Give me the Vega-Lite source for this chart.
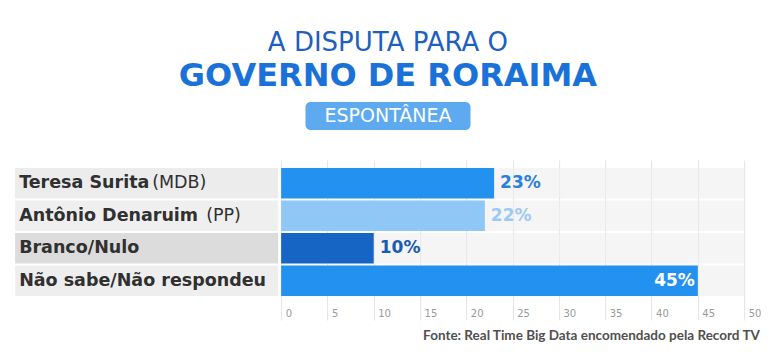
{
  "$schema": "https://vega.github.io/schema/vega-lite/v6.json",
  "padding": {"left": 15, "top": 30, "right": 5, "bottom": 5},
  "background": "white",
  "config": {"font": "DejaVu Sans", "view": {"stroke": null}, "concat": {"spacing": 2}},
  "title": {
    "text": "A DISPUTA PARA O",
    "subtitle": "GOVERNO DE RORAIMA",
    "anchor": "middle",
    "font": "DejaVu Sans",
    "fontSize": 26,
    "fontWeight": "normal",
    "color": "#1f5fbf",
    "subtitleFont": "DejaVu Sans",
    "subtitleFontSize": 32,
    "subtitleFontWeight": "bold",
    "subtitleColor": "#1a72d9",
    "subtitlePadding": 5,
    "offset": 10
  },
  "datasets": {
    "rows": [
      {"name": "Teresa Surita", "party": "(MDB)", "value": 23, "label": "23%"},
      {"name": "Antônio Denaruim", "party": "(PP)", "value": 22, "label": "22%"},
      {"name": "Branco/Nulo", "party": "", "value": 10, "label": "10%"},
      {"name": "Não sabe/Não respondeu", "party": "", "value": 45, "label": "45%"}
    ]
  },
  "center": true,
  "spacing": 30,
  "vconcat": [
    {
      "width": 165,
      "height": 28,
      "data": {"values": [{"label": "ESPONTÂNEA"}]},
      "layer": [
        {"mark": {"type": "rect", "color": "#5eaaf0", "cornerRadius": 5}, "encoding": {}},
        {"mark": {"type": "text", "color": "white", "fontSize": 19}, "encoding": {"text": {"field": "label"}}}
      ]
    },
    {
      "data": {"name": "rows"},
      "hconcat": [
        {
          "width": 263,
          "height": 144,
          "encoding": {
            "y": {"field": "name", "type": "nominal", "sort": null, "axis": null,
                  "scale": {"paddingInner": 0.06, "paddingOuter": 0.25}}
          },
          "layer": [
            {
              "mark": {"type": "bar"},
              "encoding": {
                "x": {"datum": 0, "type": "quantitative", "scale": {"domain": [0, 1]}, "axis": null},
                "x2": {"datum": 1},
                "color": {"field": "name", "type": "nominal", "legend": null,
                          "scale": {"domain": ["Teresa Surita", "Antônio Denaruim", "Branco/Nulo", "Não sabe/Não respondeu"],
                                    "range": ["#ececec", "#efefef", "#dcdcdc", "#eeeeee"]}}
              }
            },
            {
              "mark": {"type": "text", "align": "left", "dx": 4, "fontSize": 17.5, "fontWeight": "bold", "color": "#303030"},
              "encoding": {
                "x": {"datum": 0, "type": "quantitative"},
                "text": {"field": "name"}
              }
            },
            {
              "transform": [{"filter": "datum.name === 'Teresa Surita'"}],
              "mark": {"type": "text", "align": "left", "dx": 137, "fontSize": 17.5, "color": "#303030"},
              "encoding": {
                "x": {"datum": 0, "type": "quantitative"},
                "text": {"field": "party"}
              }
            },
            {
              "transform": [{"filter": "datum.name === 'Antônio Denaruim'"}],
              "mark": {"type": "text", "align": "left", "dx": 191, "fontSize": 17.5, "color": "#303030"},
              "encoding": {
                "x": {"datum": 0, "type": "quantitative"},
                "text": {"field": "party"}
              }
            }
          ]
        },
        {
          "width": 463,
          "height": 144,
          "title": {
            "text": "Fonte: Real Time Big Data encomendado pela Record TV",
            "orient": "bottom", "anchor": "end", "font": "Lato", "fontSize": 13.5, "fontWeight": "bold",
            "color": "#505050", "offset": 8, "dx": -1
          },
          "encoding": {
            "y": {"field": "name", "type": "nominal", "sort": null, "axis": null,
                  "scale": {"paddingInner": 0.06, "paddingOuter": 0.25}}
          },
          "resolve": {"scale": {"color": "independent"}},
          "layer": [
            {
              "mark": {"type": "bar", "color": "#eeeeee", "opacity": 0.6},
              "encoding": {
                "x": {"datum": 0, "type": "quantitative",
                      "scale": {"domain": [0, 50], "nice": false},
                      "axis": {"values": [0, 5, 10, 15, 20, 25, 30, 35, 40, 45, 50], "grid": true, "gridColor": "#e3e3e3",
                               "domain": false, "ticks": true, "tickSize": 16, "tickColor": "#e3e3e3",
                               "labelAlign": "left", "labelOffset": 4, "labelPadding": -12, "labelFontSize": 10,
                               "labelColor": "#9a9a9a", "title": null}},
                "x2": {"datum": 50}
              }
            },
            {
              "mark": {"type": "bar"},
              "encoding": {
                "x": {"field": "value", "type": "quantitative"},
                "color": {"field": "name", "type": "nominal", "legend": null,
                          "scale": {"domain": ["Teresa Surita", "Antônio Denaruim", "Branco/Nulo", "Não sabe/Não respondeu"],
                                    "range": ["#2391ef", "#8fc7f7", "#1664c4", "#2391ef"]}}
              }
            },
            {
              "transform": [{"filter": "datum.value < 40"}],
              "mark": {"type": "text", "align": "left", "dx": 6, "fontSize": 17, "fontWeight": "bold"},
              "encoding": {
                "x": {"field": "value", "type": "quantitative"},
                "text": {"field": "label"},
                "color": {"field": "name", "type": "nominal", "legend": null,
                          "scale": {"domain": ["Teresa Surita", "Antônio Denaruim", "Branco/Nulo"],
                                    "range": ["#2a80dc", "#9ccaf3", "#1a5cb0"]}}
              }
            },
            {
              "transform": [{"filter": "datum.value >= 40"}],
              "mark": {"type": "text", "align": "right", "dx": -3, "fontSize": 17, "fontWeight": "bold", "color": "white"},
              "encoding": {
                "x": {"field": "value", "type": "quantitative"},
                "text": {"field": "label"}
              }
            }
          ]
        }
      ]
    }
  ]
}
